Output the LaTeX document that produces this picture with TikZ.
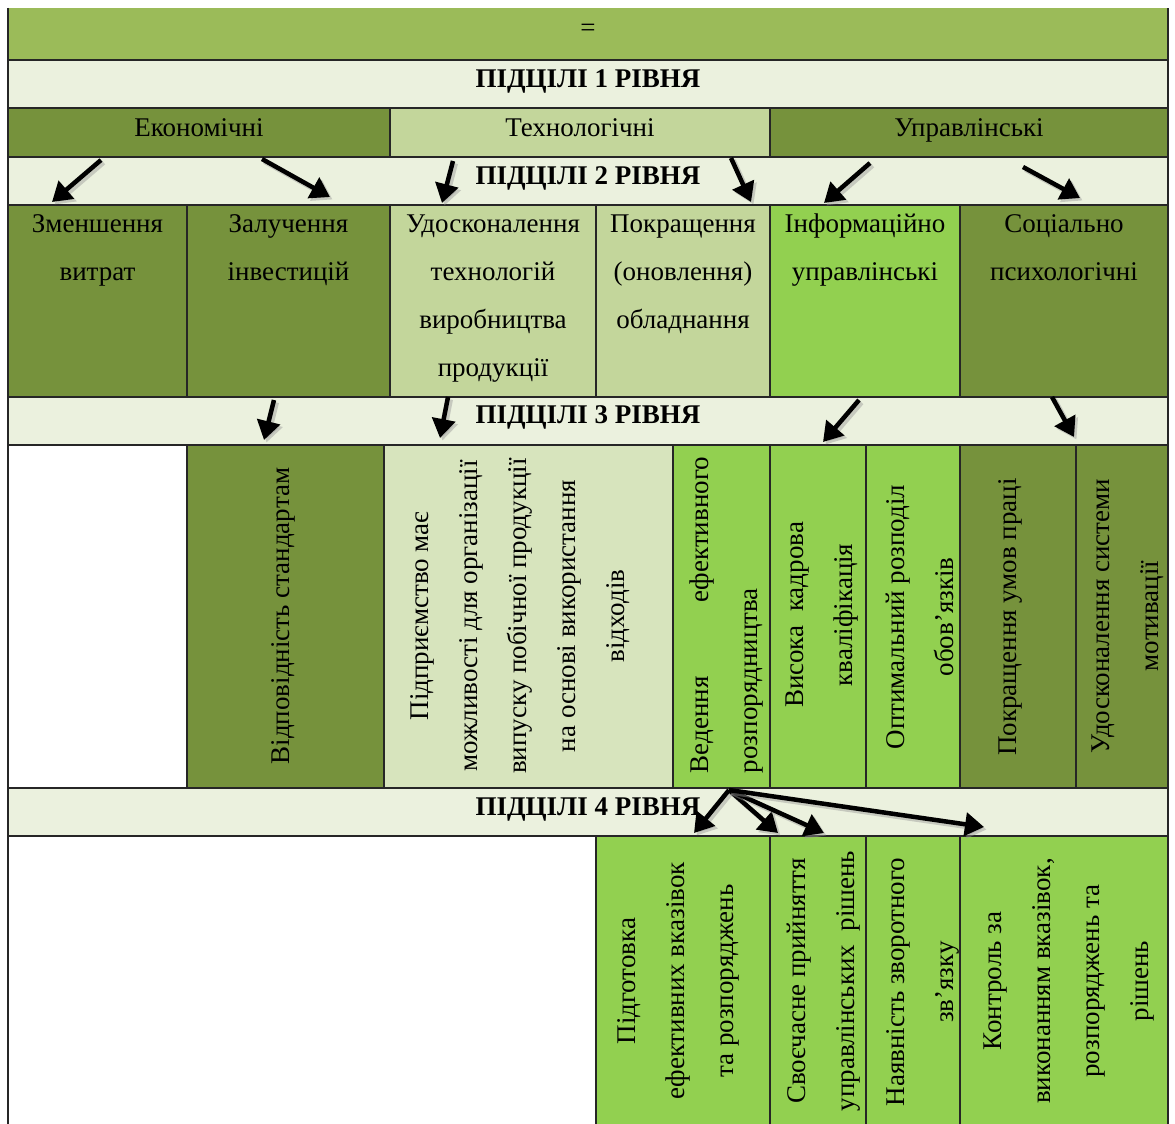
\documentclass[tikz,border=0pt]{standalone}
\usepackage{fontspec}
\setmainfont{Liberation Serif}
\usetikzlibrary{arrows.meta}
\definecolor{topg}{HTML}{9BBB59}
\definecolor{hdr}{HTML}{EBF1DE}
\definecolor{darkg}{HTML}{76923C}
\definecolor{liteg}{HTML}{C3D69B}
\definecolor{litethree}{HTML}{D7E4BD}
\definecolor{brtg}{HTML}{92D050}
\definecolor{bord}{HTML}{262626}
\tikzset{
  cell/.style={draw=bord, line width=1.3pt, inner sep=0pt, outer sep=0pt, anchor=north west},
  ltxt/.style={inner sep=0pt, anchor=base, font=\fontsize{27}{48}\selectfont},
  htxt/.style={inner sep=0pt, anchor=base, font=\fontsize{27}{48}\selectfont\bfseries},
  vtxt/.style={inner sep=0pt, rotate=90, align=center, font=\fontsize{27}{49}\selectfont},
  arr/.style={line width=4.5pt, black, -{Triangle[length=19pt,width=23pt]}},
  arrsh/.style={line width=5pt, black!40, opacity=0.45, -{Triangle[length=19pt,width=23pt]}},
}
\newcommand\cellat[6]{\node[cell, fill=#6, minimum width=#4pt-#2pt, minimum height=#5pt-#3pt] (#1) at (#2,#3) {};}
\newcommand\arrowfromto[4]{%
  \draw[arrsh] ([shift={(2.5,2.5)}]#1) -- ([shift={(2.5,2.5)}]#2);
  \draw[arr] (#1) -- (#2);}
\begin{document}
\begin{tikzpicture}[x=1pt,y=-1pt]
\clip (0,0) rectangle (1175,1124);
\fill[white] (0,0) rectangle (1175,1124);
% top band
\node[inner sep=0pt, outer sep=0pt, anchor=north west, fill=topg, minimum width=1160pt, minimum height=52pt] (top) at (8,8) {};
\draw[bord, line width=1.3pt] (top.north west) -- (top.south west) -- (top.south east) -- (top.north east);
\node[ltxt] (eq) at (588,37) {=};
% header 1
\cellat{h1}{8}{60}{1168}{108}{hdr}
\node[htxt] (h1t) at (588,87) {ПІДЦІЛІ 1 РІВНЯ};
% level 1
\cellat{econ}{8}{108}{390}{157}{darkg}
\cellat{tech}{390}{108}{770}{157}{liteg}
\cellat{upr}{770}{108}{1168}{157}{darkg}
\node[ltxt] (econt) at (199,136) {Економічні};
\node[ltxt] (techt) at (580,136) {Технологічні};
\node[ltxt] (uprt) at (969,136) {Управлінські};
% header 2
\cellat{h2}{8}{157}{1168}{205}{hdr}
\node[htxt] (h2t) at (588,184) {ПІДЦІЛІ 2 РІВНЯ};
% level 2
\cellat{zm}{8}{205}{187}{397}{darkg}
\cellat{zal}{187}{205}{390}{397}{darkg}
\cellat{udo}{390}{205}{596}{397}{liteg}
\cellat{pok}{596}{205}{770}{397}{liteg}
\cellat{inf}{770}{205}{960}{397}{brtg}
\cellat{soc}{960}{205}{1168}{397}{darkg}
\node[ltxt] (zm1) at (97.5,232) {Зменшення};
\node[ltxt] (zm2) at (97.5,280) {витрат};
\node[ltxt] (zal1) at (288.5,232) {Залучення};
\node[ltxt] (zal2) at (288.5,280) {інвестицій};
\node[ltxt] (udo1) at (493,232) {Удосконалення};
\node[ltxt] (udo2) at (493,280) {технологій};
\node[ltxt] (udo3) at (493,328) {виробництва};
\node[ltxt] (udo4) at (493,376) {продукції};
\node[ltxt] (pok1) at (683,232) {Покращення};
\node[ltxt] (pok2) at (683,280) {(оновлення)};
\node[ltxt] (pok3) at (683,328) {обладнання};
\node[ltxt] (inf1) at (865,232) {Інформаційно};
\node[ltxt] (inf2) at (865,280) {управлінські};
\node[ltxt] (soc1) at (1064,232) {Соціально};
\node[ltxt] (soc2) at (1064,280) {психологічні};
% header 3
\cellat{h3}{8}{397}{1168}{445}{hdr}
\node[htxt] (h3t) at (588,423) {ПІДЦІЛІ 3 РІВНЯ};
% level 3
\cellat{wthree}{8}{445}{187}{788}{white}
\cellat{vid}{187}{445}{384}{788}{darkg}
\cellat{pid}{384}{445}{673}{788}{litethree}
\cellat{ved}{673}{445}{770}{788}{brtg}
\cellat{vys}{770}{445}{866}{788}{brtg}
\cellat{opt}{866}{445}{960}{788}{brtg}
\cellat{pkr}{960}{445}{1076}{788}{darkg}
\cellat{uds}{1076}{445}{1168}{788}{darkg}
\node[vtxt] (vidt) at (283,616) {Відповідність стандартам};
\node[vtxt] (pidt) at (520,616) {Підприємство має\\можливості для організації\\випуску побічної продукції\\на основі використання\\відходів};
\node[vtxt, align=left, text width=316pt] (vedt) at (726,615) {Ведення\hfill ефективного\\розпорядництва};
\node[vtxt] (vyst) at (822,615) {Висока~~кадрова\\кваліфікація};
\node[vtxt] (optt) at (920,617) {Оптимальний розподіл\\обов’язків};
\node[vtxt] (pkrt) at (1010,617) {Покращення умов праці};
\node[vtxt] (udst) at (1128,616) {Удосконалення системи\\мотивації};
% header 4
\cellat{h4}{8}{788}{1168}{836}{hdr}
\node[htxt] (h4t) at (588,815) {ПІДЦІЛІ 4 РІВНЯ};
% level 4
\node[inner sep=0pt, outer sep=0pt, anchor=north west, fill=white, minimum width=588pt, minimum height=300pt] (wfour) at (8,836) {};
\draw[bord, line width=1.3pt] (wfour.south west) -- (wfour.north west) -- (wfour.north east);
\cellat{pg}{596}{836}{770}{1140}{brtg}
\cellat{sv}{770}{836}{866}{1140}{brtg}
\cellat{nv}{866}{836}{960}{1140}{brtg}
\cellat{kn}{960}{836}{1168}{1140}{brtg}
\node[vtxt] (pgt) at (678,981) {Підготовка\\ефективних вказівок\\та розпоряджень};
\node[vtxt] (svt) at (824,981) {Своєчасне прийняття\\управлінських~~рішень};
\node[vtxt] (nvt) at (923,982) {Наявність зворотного\\зв’язку};
\node[vtxt] (knt) at (1069,981) {Контроль за\\виконанням вказівок,\\розпоряджень та\\рішень};
% arrow coordinates level 1 -> 2
\coordinate (a1s) at (101,160); \coordinate (a1e) at (52,202);
\coordinate (a2s) at (262,159); \coordinate (a2e) at (330,197);
\coordinate (a3s) at (453,161); \coordinate (a3e) at (442,203);
\coordinate (a4s) at (731,158); \coordinate (a4e) at (751,202);
\coordinate (a5s) at (870,163); \coordinate (a5e) at (824,203);
\coordinate (a6s) at (1023,167); \coordinate (a6e) at (1080,198);
% level 2 -> 3
\coordinate (b1s) at (274,400); \coordinate (b1e) at (264,440);
\coordinate (b2s) at (448,397); \coordinate (b2e) at (440,438);
\coordinate (b3s) at (859,400); \coordinate (b3e) at (823,442);
\coordinate (b4s) at (1052,397); \coordinate (b4e) at (1074,437);
% level 3 -> 4
\coordinate (cs) at (729,790);
\coordinate (c1e) at (694,833);
\coordinate (c2e) at (778,833);
\coordinate (c3e) at (824,833);
\coordinate (c4e) at (984,827);
\arrowfromto{a1s}{a1e}{}{}
\arrowfromto{a2s}{a2e}{}{}
\arrowfromto{a3s}{a3e}{}{}
\arrowfromto{a4s}{a4e}{}{}
\arrowfromto{a5s}{a5e}{}{}
\arrowfromto{a6s}{a6e}{}{}
\arrowfromto{b1s}{b1e}{}{}
\arrowfromto{b2s}{b2e}{}{}
\arrowfromto{b3s}{b3e}{}{}
\arrowfromto{b4s}{b4e}{}{}
\arrowfromto{cs}{c1e}{}{}
\arrowfromto{cs}{c2e}{}{}
\arrowfromto{cs}{c3e}{}{}
\arrowfromto{cs}{c4e}{}{}
\end{tikzpicture}
\end{document}
